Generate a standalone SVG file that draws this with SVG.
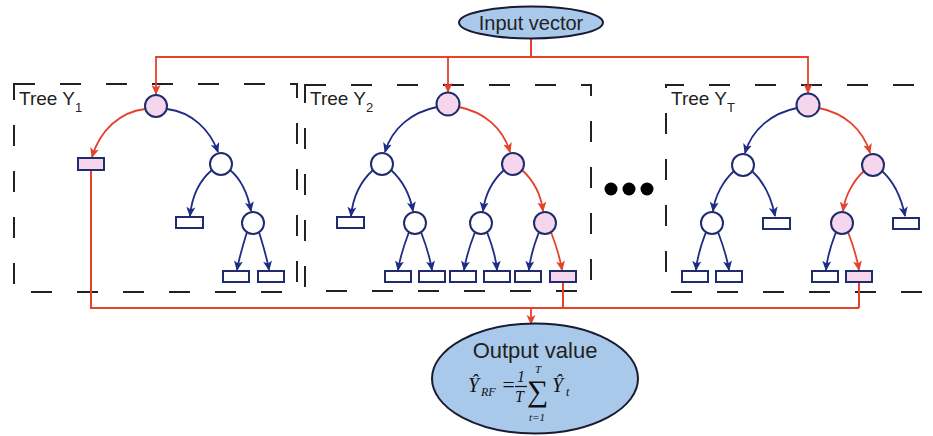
<svg xmlns="http://www.w3.org/2000/svg" width="933" height="436" viewBox="0 0 933 436">
<defs>
<marker id="ab" markerUnits="userSpaceOnUse" markerWidth="10" markerHeight="10" viewBox="0 0 10 10" refX="9" refY="5" orient="auto"><path d="M0,0.5 L10,5 L0,9.5 L2.5,5 Z" fill="#1f2c86"/></marker>
<marker id="ar" markerUnits="userSpaceOnUse" markerWidth="10" markerHeight="10" viewBox="0 0 10 10" refX="9" refY="5" orient="auto"><path d="M0,0.5 L10,5 L0,9.5 L2.5,5 Z" fill="#e5412b"/></marker>
<style>
.box{fill:none;stroke:#222;stroke-width:2;stroke-dasharray:21 25}
.n{fill:#fff;stroke:#1f2c6e;stroke-width:2}
.p{fill:#f5d6ec;stroke:#1f2c6e;stroke-width:2}
.eb{fill:none;stroke:#1f2c86;stroke-width:1.8;marker-end:url(#ab)}
.er{fill:none;stroke:#e5412b;stroke-width:1.8;marker-end:url(#ar)}
.rl{fill:none;stroke:#e5412b;stroke-width:2}
.lbl{font-family:"Liberation Sans",Arial,sans-serif;font-size:19px;fill:#222}
.sub{font-family:"Liberation Sans",Arial,sans-serif;font-size:13px;fill:#222}
.ell{fill:#a9c9ea;stroke:#1a1a33;stroke-width:2}
.big{font-family:"Liberation Sans",Arial,sans-serif;fill:#222}
.m{font-family:"Liberation Serif","Times New Roman",serif;font-style:italic;fill:#111}
</style>
</defs>
<rect width="933" height="436" fill="#fff"/>

<g id="boxes">
<rect class="box" x="14" y="84" width="283" height="208"/>
<rect class="box" x="305" y="85" width="286" height="206"/>
<path class="box" d="M960,85 H666 V292 H960"/>
</g>

<g id="labels">
<text class="lbl" x="19" y="105">Tree Y</text><text class="sub" x="75" y="112">1</text>
<text class="lbl" x="310" y="105">Tree Y</text><text class="sub" x="366" y="112">2</text>
<text class="lbl" x="671" y="105">Tree Y</text><text class="sub" x="727" y="112">T</text>
</g>

<g id="connectors">
<path class="rl" d="M531,39 V57 M156,57 H808"/>
<path class="er" d="M156,56 V94"/>
<path class="er" d="M448,56 V92"/>
<path class="er" d="M808,56 V93"/>
<path class="rl" d="M91,170 V308 H859 M563,282 V308 M859,282 V308"/>
<path class="er" d="M531,308 V324"/>
<path class="er" d="M145,109 C120,112 100,130 92,157"/>
<path class="eb" d="M167,109 C192,112 210,130 218,152"/>
<path class="eb" d="M212,170 C200,180 192,195 190,216"/>
<path class="eb" d="M230,170 C242,180 248,195 251,211"/>
<path class="eb" d="M247,232 C243,245 239,258 237,270"/>
<path class="eb" d="M259,232 C263,245 267,258 269,270"/>
<path class="eb" d="M437,107 C412,112 392,128 385,152"/>
<path class="er" d="M459,107 C484,112 503,128 510,152"/>
<path class="eb" d="M373,170 C362,180 353,196 351,216"/>
<path class="eb" d="M391,170 C402,180 410,195 413,211"/>
<path class="eb" d="M504,170 C493,180 485,195 483,211"/>
<path class="er" d="M522,170 C533,180 541,195 543,211"/>
<path class="eb" d="M409,232 C404,245 400,258 398,270"/>
<path class="eb" d="M421,232 C426,245 430,258 432,270"/>
<path class="eb" d="M475,232 C470,245 466,258 464,270"/>
<path class="eb" d="M487,232 C492,245 496,258 497,270"/>
<path class="eb" d="M539,232 C534,245 530,258 529,270"/>
<path class="er" d="M551,232 C556,245 560,258 562,270"/>
<path class="eb" d="M797,108 C772,113 752,129 745,153"/>
<path class="er" d="M819,108 C844,113 863,129 870,153"/>
<path class="eb" d="M734,171 C723,181 715,196 713,211"/>
<path class="eb" d="M752,171 C763,181 771,196 775,216"/>
<path class="er" d="M864,171 C853,181 845,196 843,211"/>
<path class="eb" d="M882,171 C893,181 901,196 905,216"/>
<path class="eb" d="M706,232 C701,245 697,258 696,270"/>
<path class="eb" d="M718,232 C723,245 727,258 729,270"/>
<path class="eb" d="M836,232 C831,245 827,258 826,270"/>
<path class="er" d="M848,232 C853,245 857,258 859,270"/>
</g>

<g id="input-vector">
<ellipse class="ell" cx="531" cy="22.5" rx="72" ry="16"/>
<text class="big" x="531" y="30" font-size="20" text-anchor="middle">Input vector</text>
</g>

<g id="tree1">
<circle class="p" cx="156" cy="106" r="11"/>
<rect class="p" x="78" y="158" width="26" height="12"/>
<circle class="n" cx="221" cy="164" r="11"/>
<rect class="n" x="176" y="217" width="27" height="11"/>
<circle class="n" cx="253" cy="223" r="11"/>
<rect class="n" x="223" y="271" width="26" height="11"/>
<rect class="n" x="258" y="271" width="26" height="11"/>
</g>

<g id="tree2">
<circle class="p" cx="448" cy="104" r="11.5"/>
<circle class="n" cx="382" cy="164" r="11"/>
<circle class="p" cx="513" cy="164" r="11"/>
<rect class="n" x="337" y="217" width="27" height="11"/>
<circle class="n" cx="415" cy="223" r="11"/>
<circle class="n" cx="481" cy="223" r="11"/>
<circle class="p" cx="545" cy="223" r="11"/>
<rect class="n" x="385" y="271" width="26" height="11"/>
<rect class="n" x="419" y="271" width="26" height="11"/>
<rect class="n" x="450" y="271" width="26" height="11"/>
<rect class="n" x="484" y="271" width="26" height="11"/>
<rect class="n" x="515" y="271" width="26" height="11"/>
<rect class="p" x="550" y="271" width="26" height="11"/>
</g>

<g id="dots">
<circle cx="611" cy="189" r="6.5" fill="#000"/>
<circle cx="629" cy="189" r="6.5" fill="#000"/>
<circle cx="647" cy="189" r="6.5" fill="#000"/>
</g>

<g id="treeT">
<circle class="p" cx="808" cy="105" r="11.5"/>
<circle class="n" cx="743" cy="165" r="11"/>
<circle class="p" cx="873" cy="165" r="11"/>
<circle class="n" cx="712" cy="223" r="11"/>
<rect class="n" x="763" y="218" width="27" height="11"/>
<circle class="p" cx="842" cy="223" r="11"/>
<rect class="n" x="893" y="218" width="26" height="11"/>
<rect class="n" x="682" y="271" width="26" height="11"/>
<rect class="n" x="716" y="271" width="26" height="11"/>
<rect class="n" x="812" y="271" width="26" height="11"/>
<rect class="p" x="846" y="271" width="26" height="11"/>
</g>

<g id="output-value">
<ellipse class="ell" cx="535" cy="378.5" rx="103" ry="55"/>
<text class="big" x="535" y="358" font-size="22" text-anchor="middle">Output value</text>
<text class="m" x="468" y="392" font-size="20">Ŷ</text>
<text class="m" x="481" y="396" font-size="12">RF</text>
<text class="m" x="501" y="392" font-size="22" font-style="normal">=</text>
<text class="m" x="517" y="382" font-size="16" font-style="normal">1</text>
<line x1="515" y1="386.5" x2="527" y2="386.5" stroke="#111" stroke-width="1.2"/>
<text class="m" x="515" y="402" font-size="16">T</text>
<text class="m" x="527" y="401" font-size="30" font-style="normal">∑</text>
<text class="m" x="535" y="373" font-size="11">T</text>
<text class="m" x="529" y="421" font-size="11">t=1</text>
<text class="m" x="552" y="392" font-size="20">Ŷ</text>
<text class="m" x="566" y="396" font-size="12">t</text>
</g>
</svg>
